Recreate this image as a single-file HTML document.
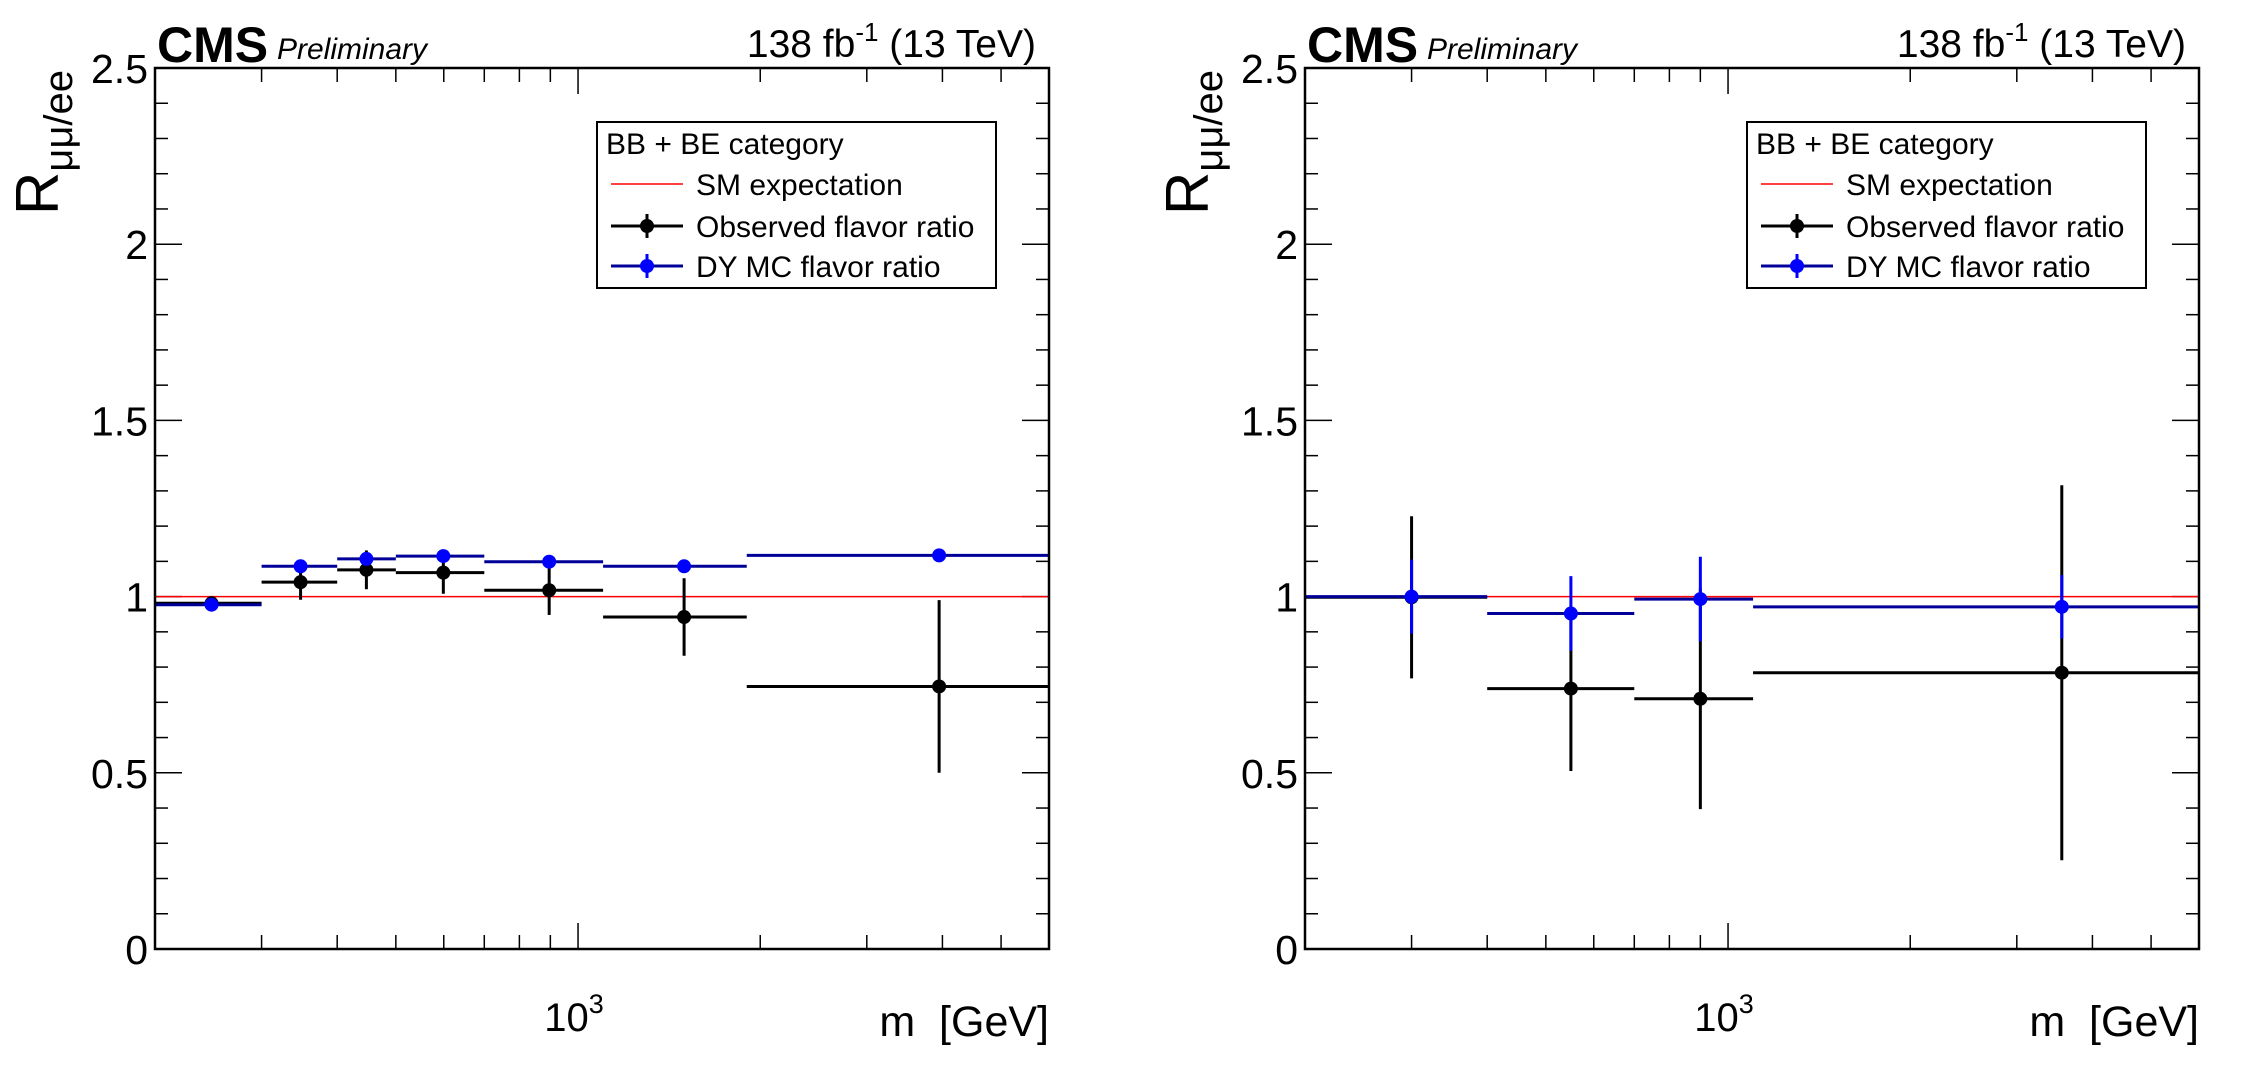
<!DOCTYPE html>
<html><head><meta charset="utf-8"><style>
html,body{margin:0;padding:0;background:#fff;}
svg{display:block;font-family:"Liberation Sans",sans-serif;}
</style></head><body>
<svg id="fig" width="2253" height="1068" viewBox="0 0 2253 1068" xmlns="http://www.w3.org/2000/svg"></svg>
<script>
// ---- data (left panel) ----
const leftEdges = [200, 300, 400, 500, 700, 1100, 1900, 6000];
const leftX = [248, 348, 447, 599, 896, 1497, 3950];
const leftObs = [0.981, 1.041, 1.076, 1.068, 1.018, 0.942, 0.745];
const leftObsErr = [0.02, 0.05, 0.055, 0.06, 0.07, 0.11, 0.245];
const leftMC = [0.977, 1.086, 1.107, 1.115, 1.099, 1.086, 1.117];
const leftMCErr = [0.008, 0.01, 0.015, 0.012, 0.012, 0.01, 0.01];
// ---- data (right panel) ----
const rightEdges = [200, 400, 700, 1100, 6000];
const rightX = [300, 550, 900, 3560];
const rightObs = [0.998, 0.739, 0.710, 0.784];
const rightObsErr = [0.23, 0.234, 0.313, 0.532];
const rightMC = [1.0, 0.952, 0.993, 0.971];
const rightMCErr = [0.105, 0.106, 0.12, 0.09];
// ---- axis ticks ----
const yTicks = [0, 0.5, 1, 1.5, 2, 2.5];
const yTickLabels = ["0", "0.5", "1", "1.5", "2", "2.5"];
const xMinorTicks = [300, 400, 500, 600, 700, 800, 900, 2000, 3000, 4000, 5000];
const smValue = 1.0;

const NS = "http://www.w3.org/2000/svg";
const svg = document.getElementById("fig");
function el(tag, attrs, parent, text) {
  const e = document.createElementNS(NS, tag);
  for (const k in attrs) e.setAttribute(k, attrs[k]);
  if (text !== undefined) e.textContent = text;
  (parent || svg).appendChild(e);
  return e;
}

function drawPanel(off, edges, xs, obs, obsErr, mc, mcErr, pname) {
  const L = 155 + off, R = 1049 + off, T = 68, B = 949;
  const xmin = Math.log10(200), xmax = Math.log10(6000);
  const X = v => L + (Math.log10(v) - xmin) / (xmax - xmin) * (R - L);
  const Y = v => B - v / 2.5 * (B - T);
  const g = el("g", {});
  
  

  for (let i = 0; i <= 25; i++) {
    const v = i * 0.1, y = Y(v), len = (i % 5 === 0) ? 27 : 13;
    el("line", {x1: L, y1: y, x2: L + len, y2: y, stroke: "#000", "stroke-width": 1.5}, g);
    el("line", {x1: R, y1: y, x2: R - len, y2: y, stroke: "#000", "stroke-width": 1.5}, g);
  }
  yTicks.forEach((v, i) => {
    const t = el("text", {x: L - 7, y: Y(v) + 15, "text-anchor": "end", "font-size": 41, "textLength": 0}, g, yTickLabels[i]);
    t.removeAttribute("textLength");
    
    
  });
  xMinorTicks.forEach(v => {
    el("line", {x1: X(v), y1: B, x2: X(v), y2: B - 14, stroke: "#000", "stroke-width": 1.5}, g);
    el("line", {x1: X(v), y1: T, x2: X(v), y2: T + 14, stroke: "#000", "stroke-width": 1.5}, g);
  });
  el("line", {x1: X(1000), y1: B, x2: X(1000), y2: B - 26, stroke: "#000", "stroke-width": 1.5}, g);
  el("line", {x1: X(1000), y1: T, x2: X(1000), y2: T + 26, stroke: "#000", "stroke-width": 1.5}, g);
  const xl = el("text", {x: X(1000) - 4, y: 1031, "text-anchor": "middle", "font-size": 40}, g);
  
  
  el("tspan", {}, xl, "10");
  el("tspan", {dy: -18, "font-size": 27}, xl, "3");

  const sm = el("line", {x1: L, y1: Y(smValue), x2: R, y2: Y(smValue), stroke: "#ff0000", "stroke-width": 1.5}, g);
  
  

  for (let i = 0; i < obs.length; i++) {
    const gg = el("g", {}, g);
    
    
    el("line", {x1: X(edges[i]), y1: Y(obs[i]), x2: X(edges[i + 1]), y2: Y(obs[i]), stroke: "#000", "stroke-width": 3}, gg);
    el("line", {x1: X(xs[i]), y1: Y(obs[i] - obsErr[i]), x2: X(xs[i]), y2: Y(obs[i] + obsErr[i]), stroke: "#000", "stroke-width": 3}, gg);
    el("circle", {cx: X(xs[i]), cy: Y(obs[i]), r: 7, fill: "#000"}, gg);
  }
  for (let i = 0; i < mc.length; i++) {
    const gg = el("g", {}, g);
    
    
    el("line", {x1: X(edges[i]), y1: Y(mc[i]), x2: X(edges[i + 1]), y2: Y(mc[i]), stroke: "#000099", "stroke-width": 3}, gg);
    el("line", {x1: X(xs[i]), y1: Y(mc[i] - mcErr[i]), x2: X(xs[i]), y2: Y(mc[i] + mcErr[i]), stroke: "#0000ff", "stroke-width": 3}, gg);
    el("circle", {cx: X(xs[i]), cy: Y(mc[i]), r: 7, fill: "#0000ff"}, gg);
  }

  const fr = el("rect", {x: L, y: T, width: R - L, height: B - T, fill: "none", stroke: "#000", "stroke-width": 2.5}, g);
  
  

  const cms = el("text", {x: 157 + off, y: 62, "font-size": 50, "font-weight": "bold"}, g, "CMS");
  
  
  const pre = el("text", {x: 277 + off, y: 59, "font-size": 30, "font-style": "italic"}, g, "Preliminary");
  
  
  const lum = el("text", {x: 1036 + off, y: 57, "text-anchor": "end", "font-size": 39}, g);
  
  
  el("tspan", {}, lum, "138 fb");
  el("tspan", {dy: -16, "font-size": 26}, lum, "-1");
  el("tspan", {dy: 16}, lum, " (13 TeV)");

  const yt = el("text", {transform: "translate(" + (58 + off) + ",70) rotate(-90)", "text-anchor": "end", "font-size": 60}, g);
  
  
  el("tspan", {}, yt, "R");
  el("tspan", {dy: 14, "font-size": 40}, yt, "μμ/ee");
  const xt = el("text", {x: R, y: 1036, "text-anchor": "end", "font-size": 43}, g, "m\u00a0\u00a0[GeV]");
  
  

  const lg = el("g", {}, g);
  
  
  el("rect", {x: 597 + off, y: 122, width: 399, height: 166, fill: "#fff", stroke: "#000", "stroke-width": 2}, lg);
  el("text", {x: 606 + off, y: 154, "font-size": 30}, lg, "BB + BE category");
  const rows = [[184, "#ff0000", "SM expectation", 0], [226, "#000", "Observed flavor ratio", 1], [266, "#000099", "DY MC flavor ratio", 2]];
  rows.forEach(r => {
    const e = el("g", {}, lg);
    
    
    el("line", {x1: 611 + off, y1: r[0], x2: 683 + off, y2: r[0], stroke: r[1], "stroke-width": r[3] ? 3 : 1.5}, e);
    if (r[3]) {
      const c = r[3] === 2 ? "#0000ff" : "#000";
      el("line", {x1: 647 + off, y1: r[0] - 12, x2: 647 + off, y2: r[0] + 12, stroke: c, "stroke-width": 3}, e);
      el("circle", {cx: 647 + off, cy: r[0], r: 7, fill: c}, e);
    }
    el("text", {x: 696 + off, y: r[0] + 11, "font-size": 30}, e, r[2]);
  });
}

drawPanel(0, leftEdges, leftX, leftObs, leftObsErr, leftMC, leftMCErr, "left-panel");
drawPanel(1150, rightEdges, rightX, rightObs, rightObsErr, rightMC, rightMCErr, "right-panel");
</script>
</body></html>
